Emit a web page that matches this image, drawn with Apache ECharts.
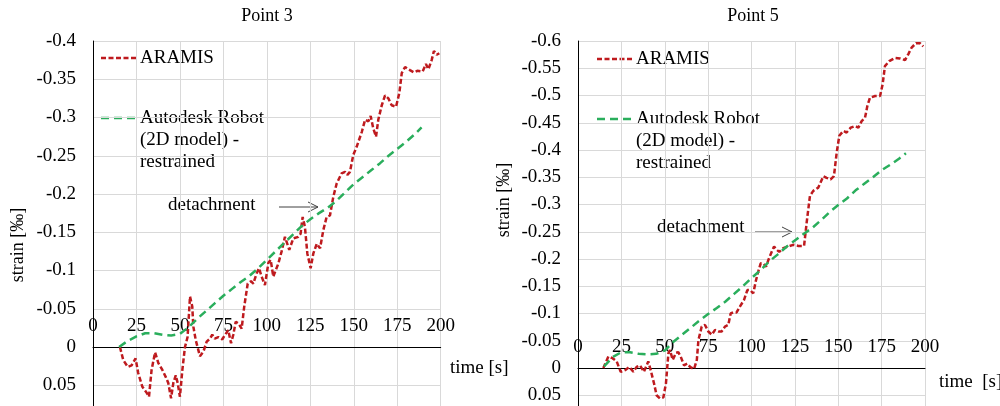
<!DOCTYPE html>
<html><head><meta charset="utf-8">
<script src="https://cdn.jsdelivr.net/npm/echarts@6/dist/echarts.min.js"></script>
<style>html,body{margin:0;padding:0;background:#fff}#c{width:1000px;height:406px}</style>
</head><body><div id="c"></div>
<script>
// ---- data (time [s], strain [‰]) ----
const p3AramisT = [15.5,17.4,20,22.2,24.5,26,28.4,30.9,32.2,33.7,35.7,37.6,39.9,41.8,43.3,44.9,46.2,47.6,48.7,50,51.4,52.9,54.4,55.8,57.1,57.7,59.1,61.5,63.5,65.4,67.3,68.6,70,72.1,74.4,75.7,77.8,79.4,80.7,82.1,83.6,85.5,87,89,90.9,92.2,94.1,95.5,97,98.9,100.9,102.2,103.7,106.6,108.5,110.4,112.9,115.2,118.1,119.4,120.6,121.9,123.3,125.2,126.7,128.7,130.6,132.5,134.4,136.3,138.2,140.2,143,145,146.3,147.8,149.7,151.7,154.6,156.5,158.4,159.7,161.2,162.8,164.1,166.1,168,169.9,171.8,174.3,176.2,177.6,179.5,182.3,184.6,186.5,189.6,191.5,192.9,194.8,196.1,197.7,199.2];
const p3AramisV = [0,0.017,0.026,0.024,0.015,0.034,0.052,0.060,0.065,0.030,0.007,0.021,0.030,0.039,0.047,0.067,0.047,0.037,0.047,0.065,0.030,0,-0.013,-0.066,-0.053,-0.027,-0.009,0.012,0.006,-0.007,-0.011,-0.016,-0.011,-0.013,-0.010,-0.015,-0.022,-0.005,-0.016,-0.033,-0.031,-0.024,-0.053,-0.083,-0.086,-0.083,-0.096,-0.103,-0.092,-0.081,-0.110,-0.114,-0.092,-0.109,-0.125,-0.144,-0.127,-0.142,-0.144,-0.148,-0.170,-0.157,-0.122,-0.103,-0.122,-0.135,-0.129,-0.153,-0.170,-0.172,-0.196,-0.214,-0.227,-0.229,-0.225,-0.229,-0.251,-0.262,-0.281,-0.297,-0.295,-0.302,-0.286,-0.275,-0.297,-0.316,-0.329,-0.325,-0.316,-0.314,-0.332,-0.358,-0.366,-0.362,-0.359,-0.361,-0.360,-0.370,-0.363,-0.375,-0.387,-0.382,-0.384];
const p3RobotT = [15,20,25,30,35,40,45,50,55,60,65,70,75,80,85,90,95,100,105,110,115,120,125,130,135,140,145,150,155,160,165,170,175,180,185,189];
const p3RobotV = [0,-0.008,-0.014,-0.018,-0.018,-0.016,-0.015,-0.017,-0.026,-0.037,-0.047,-0.057,-0.067,-0.076,-0.085,-0.093,-0.103,-0.114,-0.125,-0.136,-0.147,-0.158,-0.167,-0.175,-0.182,-0.191,-0.202,-0.213,-0.222,-0.231,-0.240,-0.250,-0.259,-0.268,-0.278,-0.287];
const p5AramisT = [14.6,17.5,19.9,22.3,24.6,27.1,29.6,31.9,33.8,35.7,38,40.5,41.9,43.8,45.3,47.3,49.2,50.7,52.1,53,54.6,56.5,57.8,59.2,61.1,63,64.6,66.9,68.5,69.4,71.3,73.2,75.1,77.1,79,80.9,82.8,84.7,86.6,88,89.4,91.4,93.4,95.7,97.6,99.2,101,102.6,103.9,105.3,106.8,108.4,109.7,111.6,113,114.5,116,118.3,121.2,124.1,127,130.3,131.8,133.7,135.6,138.5,141.4,143.3,145.6,147.5,149.1,150.6,152.9,154.8,157.2,159.7,161.6,163.5,165.4,166.8,168.3,171.2,174.1,175.6,176.9,179.4,182.7,185.6,188.5,190.4,192.3,194.8,197.1,199];
const p5AramisV = [0,-0.021,-0.018,-0.012,0.007,0.004,-0.002,0.007,-0.002,-0.005,0.007,-0.012,0.004,0.028,0.050,0.056,0.054,0.028,-0.027,-0.033,-0.015,-0.028,-0.029,-0.021,-0.005,-0.008,-0.002,0.002,-0.015,-0.051,-0.076,-0.079,-0.067,-0.061,-0.070,-0.067,-0.067,-0.076,-0.079,-0.100,-0.102,-0.102,-0.113,-0.125,-0.143,-0.143,-0.137,-0.161,-0.177,-0.192,-0.192,-0.186,-0.198,-0.213,-0.223,-0.217,-0.213,-0.220,-0.223,-0.226,-0.224,-0.224,-0.267,-0.316,-0.325,-0.331,-0.352,-0.349,-0.346,-0.352,-0.395,-0.426,-0.435,-0.432,-0.441,-0.444,-0.441,-0.453,-0.459,-0.481,-0.496,-0.499,-0.499,-0.521,-0.554,-0.563,-0.569,-0.568,-0.565,-0.576,-0.588,-0.596,-0.596,-0.590];
const p5RobotT = [15,20,25,30,35,40,45,50,55,60,65,70,75,80,85,90,95,100,105,110,115,120,125,130,135,140,145,150,155,160,165,170,175,180,185,189];
const p5RobotV = [-0.003,-0.020,-0.029,-0.029,-0.026,-0.025,-0.026,-0.032,-0.048,-0.061,-0.074,-0.087,-0.099,-0.110,-0.122,-0.136,-0.150,-0.165,-0.179,-0.195,-0.208,-0.222,-0.234,-0.246,-0.257,-0.271,-0.286,-0.299,-0.311,-0.326,-0.338,-0.350,-0.363,-0.373,-0.384,-0.394];
const seriesNames = ['ARAMIS', 'Autodesk Robot (2D model) - restrained'];
const titles = ['Point 3', 'Point 5'];

// ---- styling ----
const RED = '#BE1A1E', GREEN = '#2AAE5C';
const FONT = 'Liberation Serif';
const RDASH = [5, 2.5], GDASH = [8, 5];
const zip = (t, v) => t.map((x, i) => [x, v[i]]);
const txt = (x, y, s, size, align) => ({type:'text', x:x, y:y, silent:true,
  style:{text:s, fill:'#000', font:size + 'px "' + FONT + '"', verticalAlign:'middle', align:align || 'left'}});
const dline = (x1, x2, y, color, dash) => ({type:'line', silent:true, shape:{x1:x1, y1:y, x2:x2, y2:y},
  style:{stroke:color, lineWidth:2.5, lineDash:dash}});
const arrow = (x1, x2, y) => [
  {type:'line', silent:true, shape:{x1:x1, y1:y, x2:x2, y2:y}, style:{stroke:'#404040', lineWidth:1}},
  {type:'polyline', silent:true, shape:{points:[[x2-10, y-5],[x2, y],[x2-10, y+5]]}, style:{stroke:'#404040', lineWidth:1, fill:null}}
];

// grid geometry
const G = [
  {left:93, top:41, width:347.7, height:382.5, min:-0.4},
  {left:578, top:41, width:347, height:381.5, min:-0.6}
];

function xAx(gi) {
  const g = G[gi];
  const zeroOffset = -(g.height * (0 - g.min) / (0.1 - g.min)); // move top axis down to zero line
  return {gridIndex: gi, type:'value', min:0, max:200, interval:25, position:'top',
    offset: zeroOffset,
    axisLine:{show:true, onZero:false, lineStyle:{color:'#000', width:1}},
    axisTick:{show:false},
    axisLabel:{color:'#000', fontFamily:FONT, fontSize:19, margin:11},
    splitLine:{show:true, lineStyle:{color:'#D9D9D9', width:1}}};
}
function yAx(gi) {
  return {gridIndex: gi, type:'value', inverse:true, min:G[gi].min, max:0.1, interval:0.05,
    axisLine:{show:true, onZero:false, lineStyle:{color:'#000', width:1}},
    axisTick:{show:false},
    axisLabel:{color:'#000', fontFamily:FONT, fontSize:19, margin:17,
      formatter: v => String(+(+v).toFixed(2))},
    splitLine:{show:true, lineStyle:{color:'#D9D9D9', width:1}}};
}

const option = {
  animation:false,
  backgroundColor:'#fff',
  grid:G.map(g => ({left:g.left, top:g.top, width:g.width, height:g.height, containLabel:false, outerBoundsMode:'none'})),
  xAxis:[xAx(0), xAx(1)],
  yAxis:[yAx(0), yAx(1)],
  series:[
    {name:seriesNames[0], type:'line', xAxisIndex:0, yAxisIndex:0, data:zip(p3AramisT, p3AramisV), showSymbol:false, symbol:'none',
      lineStyle:{color:RED, width:2.5, type:RDASH}},
    {name:seriesNames[1], type:'line', xAxisIndex:0, yAxisIndex:0, data:zip(p3RobotT, p3RobotV), showSymbol:false, symbol:'none',
      lineStyle:{color:GREEN, width:2.5, type:GDASH}},
    {name:seriesNames[0], type:'line', xAxisIndex:1, yAxisIndex:1, data:zip(p5AramisT, p5AramisV), showSymbol:false, symbol:'none',
      lineStyle:{color:RED, width:2.5, type:RDASH}},
    {name:seriesNames[1], type:'line', xAxisIndex:1, yAxisIndex:1, data:zip(p5RobotT, p5RobotV), showSymbol:false, symbol:'none',
      lineStyle:{color:GREEN, width:2.5, type:GDASH}}
  ],
  graphic:[
    txt(267, 16, titles[0], 18, 'center'),
    txt(753, 16, titles[1], 18, 'center'),
    {type:'text', x:18, y:245, rotation:Math.PI/2, silent:true, style:{text:'strain [‰]', fill:'#000', font:'18px "' + FONT + '"', align:'center', verticalAlign:'middle'}},
    {type:'text', x:504, y:200, rotation:Math.PI/2, silent:true, style:{text:'strain [‰]', fill:'#000', font:'18px "' + FONT + '"', align:'center', verticalAlign:'middle'}},
    txt(450, 368, 'time [s]', 19),
    txt(939, 382, 'time  [s]', 19),
    dline(101, 137, 58, RED, RDASH),
    txt(140, 58, 'ARAMIS', 19),
    dline(101, 137, 118, GREEN, GDASH),
    txt(140, 118, 'Autodesk Robot', 19),
    txt(140, 140, '(2D model) -', 19),
    txt(140, 162, 'restrained', 19),
    dline(597, 633, 59, RED, RDASH),
    txt(636, 59, 'ARAMIS', 19),
    dline(597, 633, 119, GREEN, GDASH),
    txt(636, 119, 'Autodesk Robot', 19),
    txt(636, 141, '(2D model) -', 19),
    txt(636, 163, 'restrained', 19),
    txt(168, 205, 'detachment', 19),
    txt(657, 227, 'detachment', 19)
  ].concat(arrow(279, 318, 207), arrow(755, 792, 232))
};
const chart = echarts.init(document.getElementById('c'), null, {renderer:'canvas'});
chart.setOption(option);
</script></body></html>
